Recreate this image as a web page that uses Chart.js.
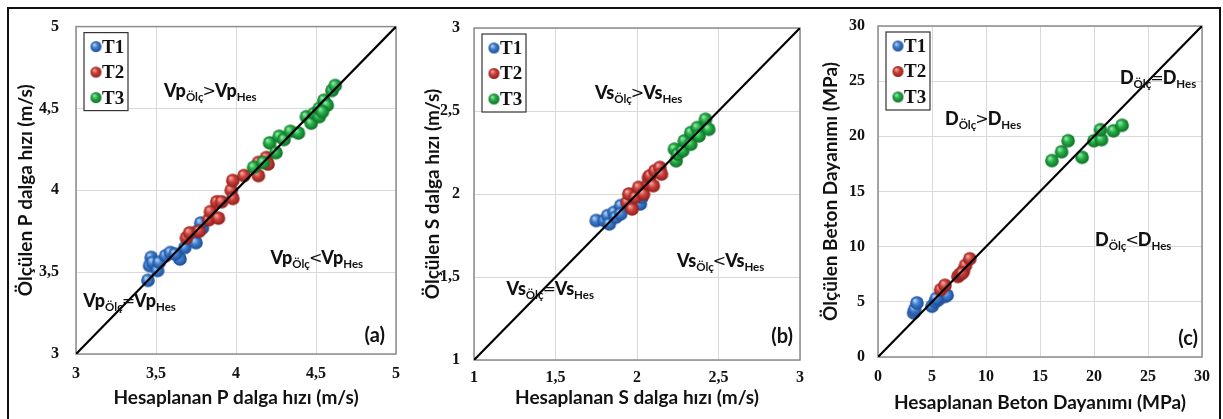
<!DOCTYPE html>
<html lang="tr">
<head>
<meta charset="utf-8">
<title>Ölçülen ve hesaplanan değerler</title>
<script src="https://cdn.jsdelivr.net/npm/chart.js@4.4.1/dist/chart.umd.min.js"></script>
<style>
  html, body { margin: 0; padding: 0; background: #fff; }
  body { width: 1223px; height: 419px; position: relative; overflow: hidden; }
  .panel { position: absolute; top: 0; }
  .frame {
    position: absolute; left: 7px; top: 7px; width: 1214px; height: 500px;
    border: 2px solid #111; box-sizing: border-box; pointer-events: none;
  }
</style>
</head>
<body>
<div class="panel" style="left:0px"><canvas id="chartP" width="410" height="419"></canvas></div>
<div class="panel" style="left:410px"><canvas id="chartS" width="405" height="419"></canvas></div>
<div class="panel" style="left:815px"><canvas id="chartD" width="408" height="419"></canvas></div>
<div class="frame"></div>

<script>
// P dalga hızı (m/s): hesaplanan / ölçülen
const pT1x = [3.45, 3.47, 3.46, 3.48, 3.51, 3.52, 3.56, 3.59, 3.65, 3.68, 3.75, 3.76, 3.79, 3.78, 3.62];
const pT1y = [3.45, 3.59, 3.54, 3.56, 3.51, 3.56, 3.60, 3.62, 3.58, 3.65, 3.68, 3.75, 3.77, 3.80, 3.61];
const pT2x = [3.69, 3.71, 3.77, 3.83, 3.84, 3.89, 3.88, 3.91, 3.97, 3.98, 3.98, 4.05, 4.14, 4.14, 4.19, 4.20];
const pT2y = [3.71, 3.74, 3.75, 3.82, 3.87, 3.83, 3.93, 3.93, 4.00, 4.06, 3.95, 4.09, 4.09, 4.17, 4.20, 4.16];
const pT3x = [4.11, 4.17, 4.21, 4.25, 4.27, 4.30, 4.34, 4.39, 4.44, 4.47, 4.49, 4.52, 4.52, 4.55, 4.57, 4.60, 4.62, 4.54];
const pT3y = [4.14, 4.17, 4.29, 4.23, 4.33, 4.31, 4.36, 4.35, 4.45, 4.41, 4.47, 4.45, 4.50, 4.55, 4.52, 4.61, 4.64, 4.48];

// S dalga hızı (m/s)
const sT1x = [1.75, 1.80, 1.82, 1.83, 1.86, 1.87, 1.90, 1.90, 1.96, 2.02, 2.03];
const sT1y = [1.84, 1.84, 1.87, 1.82, 1.89, 1.86, 1.93, 1.88, 1.96, 1.94, 1.98];
const sT2x = [1.94, 1.95, 1.97, 1.99, 2.01, 2.04, 2.07, 2.07, 2.08, 2.10, 2.11, 2.14, 2.15];
const sT2y = [1.95, 2.00, 1.91, 1.98, 2.04, 2.00, 2.06, 2.10, 2.11, 2.05, 2.14, 2.16, 2.12];
const sT3x = [2.23, 2.24, 2.25, 2.28, 2.29, 2.33, 2.33, 2.37, 2.38, 2.42, 2.44];
const sT3y = [2.27, 2.20, 2.24, 2.26, 2.32, 2.30, 2.37, 2.40, 2.35, 2.45, 2.39];

// Beton dayanımı (MPa)
const dT1x = [3.3, 3.4, 3.6, 5.0, 5.3, 5.6, 6.2, 6.4, 5.4];
const dT1y = [4.0, 4.3, 4.9, 4.6, 5.0, 5.2, 5.5, 5.6, 5.3];
const dT2x = [5.8, 6.2, 7.4, 7.6, 7.9, 8.1, 8.5, 7.8];
const dT2y = [6.1, 6.5, 7.3, 7.5, 7.8, 8.3, 8.9, 7.6];
const dT3x = [16.1, 17.0, 17.6, 18.9, 20.0, 20.7, 20.6, 21.8, 22.6];
const dT3y = [17.8, 18.6, 19.6, 18.1, 19.6, 19.7, 20.6, 20.5, 21.0];

// eksen sınırları ve adımları
const pRange = [3, 5];
const sRange = [1, 3];
const dRange = [0, 30];
const pStep = 0.5;
const sStep = 0.5;
const dStep = 5;

const groupNames = ["T1", "T2", "T3"];

const TITLE_FONT = "Lato, 'Open Sans', sans-serif";
const TICK_FONT = "'Liberation Serif', 'DejaVu Serif', serif";

// küre görünümlü nokta
function sphere(light, base, dark, r) {
  const size = Math.ceil(r * 2 + 2);
  const c = document.createElement("canvas");
  c.width = size;
  c.height = size;
  const g = c.getContext("2d");
  const cx = size / 2, cy = size / 2;
  const grad = g.createRadialGradient(cx - r * 0.35, cy - r * 0.4, r * 0.05, cx, cy, r);
  grad.addColorStop(0, light);
  grad.addColorStop(0.45, base);
  grad.addColorStop(1, dark);
  g.fillStyle = grad;
  g.beginPath();
  g.arc(cx, cy, r, 0, Math.PI * 2);
  g.fill();
  return c;
}

const palette = [
  ["#b9d6f7", "#3f7fd0", "#1d4b92"],
  ["#f4aca6", "#cf403a", "#8a1f1b"],
  ["#9eeab0", "#23b046", "#0f6d27"]
];

function pairs(xs, ys) {
  return xs.map((x, i) => ({ x: x, y: ys[i] }));
}

function comma(v) {
  return String(v).replace(".", ",");
}

// Vp_Ölç > Vp_Hes biçimindeki yazılar
function drawRelation(ctx, x, y, sym, rel) {
  ctx.save();
  ctx.fillStyle = "#111";
  ctx.textBaseline = "alphabetic";
  ctx.textAlign = "left";
  ctx.font = "900 18px " + TITLE_FONT;
  ctx.fillText(sym, x, y);
  x += ctx.measureText(sym).width;
  ctx.font = "bold 11.5px " + TITLE_FONT;
  ctx.fillText("Ölç", x, y + 4);
  x += ctx.measureText("Ölç").width - 1;
  ctx.font = "16px 'DejaVu Sans', sans-serif";
  ctx.fillText(rel, x, y - 1);
  x += ctx.measureText(rel).width - 1;
  ctx.font = "900 18px " + TITLE_FONT;
  ctx.fillText(sym, x, y);
  x += ctx.measureText(sym).width;
  ctx.font = "bold 11.5px " + TITLE_FONT;
  ctx.fillText("Hes", x, y + 4);
  ctx.restore();
}

const framePlugin = {
  id: "frame",
  beforeDatasetsDraw(chart) {
    const a = chart.chartArea;
    const ctx = chart.ctx;
    ctx.save();
    ctx.strokeStyle = "#8c8c8c";
    ctx.lineWidth = 1.5;
    ctx.strokeRect(a.left, a.top, a.right - a.left, a.bottom - a.top);
    ctx.restore();
  }
};

const notesPlugin = {
  id: "notes",
  afterDatasetsDraw(chart, args, opts) {
    const ctx = chart.ctx;
    const a = chart.chartArea;
    const xs = chart.scales.x, ys = chart.scales.y;

    // açıklama kutusu
    const bx = a.left + 8, by = a.top + 6;
    ctx.save();
    ctx.fillStyle = "#fff";
    ctx.fillRect(bx, by, 44, 78);
    ctx.strokeStyle = "#333";
    ctx.lineWidth = 1.2;
    ctx.strokeRect(bx, by, 44, 78);
    ctx.font = "bold 19px " + TICK_FONT;
    ctx.fillStyle = "#111";
    ctx.textBaseline = "middle";
    groupNames.forEach((name, i) => {
      const yy = a.top + 20 + i * 25.5;
      const img = opts.markers[i];
      ctx.drawImage(img, a.left + 20 - img.width / 2, yy - img.height / 2);
      ctx.fillText(name, a.left + 26, yy + 1);
    });
    ctx.restore();

    opts.notes.forEach(n => {
      drawRelation(ctx, xs.getPixelForValue(n.x), ys.getPixelForValue(n.y), opts.symbol, n.rel);
    });

    ctx.save();
    ctx.font = "bold 20px " + TITLE_FONT;
    ctx.fillStyle = "#111";
    ctx.textAlign = "right";
    ctx.textBaseline = "alphabetic";
    ctx.fillText(opts.tag, a.right - opts.tagDx, a.bottom - opts.tagDy);
    ctx.restore();
  }
};

function makePanel(cfg) {
  const canvas = document.getElementById(cfg.id);
  if (!canvas) return;

  const markers = palette.map(p => sphere(p[0], p[1], p[2], 6.8));
  const legendMarkers = palette.map(p => sphere(p[0], p[1], p[2], 5.5));

  const axis = (range, step, title, isY) => ({
    type: "linear",
    min: range[0],
    max: range[1],
    afterFit: s => { if (isY) s.width = cfg.yWidth; else s.height = cfg.xHeight; },
    grid: { color: "#d9d9d9", lineWidth: 1, drawTicks: false },
    border: { display: false },
    ticks: {
      stepSize: step,
      padding: isY ? cfg.yTickPad : cfg.xTickPad,
      color: "#111",
      font: { family: TICK_FONT, size: 16, weight: "bold" },
      callback: v => comma(v)
    },
    title: {
      display: true,
      text: title,
      color: "#111",
      font: { family: TITLE_FONT, size: 19, weight: "bold" },
      padding: isY ? { top: cfg.yTitlePad, bottom: 0 } : { top: 0, bottom: cfg.xTitlePad }
    }
  });

  new Chart(canvas, {
    type: "scatter",
    data: {
      datasets: [
        {
          type: "line",
          data: [{ x: cfg.range[0], y: cfg.range[0] }, { x: cfg.range[1], y: cfg.range[1] }],
          borderColor: "#000",
          borderWidth: 2.2,
          pointRadius: 0,
          order: 0
        },
        { label: "T3", data: pairs(cfg.t3x, cfg.t3y), pointStyle: markers[2], order: 1 },
        { label: "T2", data: pairs(cfg.t2x, cfg.t2y), pointStyle: markers[1], order: 2 },
        { label: "T1", data: pairs(cfg.t1x, cfg.t1y), pointStyle: markers[0], order: 3 }
      ]
    },
    options: {
      responsive: false,
      animation: false,
      layout: { padding: { top: cfg.top, right: cfg.right, bottom: 0, left: 0 } },
      scales: {
        x: axis(cfg.range, cfg.step, cfg.xTitle, false),
        y: axis(cfg.range, cfg.step, cfg.yTitle, true)
      },
      plugins: {
        legend: { display: false },
        tooltip: { enabled: false },
        notes: {
          markers: legendMarkers,
          symbol: cfg.symbol,
          notes: cfg.notes,
          tag: cfg.tag,
          tagDx: cfg.tagDx,
          tagDy: cfg.tagDy
        }
      }
    },
    plugins: [framePlugin, notesPlugin]
  });
}

makePanel({
  id: "chartP", range: pRange, step: pStep,
  t1x: pT1x, t1y: pT1y, t2x: pT2x, t2y: pT2y, t3x: pT3x, t3y: pT3y,
  xTitle: "Hesaplanan P dalga hızı (m/s)", yTitle: "Ölçülen P dalga hızı (m/s)",
  top: 24, right: 10, yWidth: 76, xHeight: 65,
  yTickPad: 17, xTickPad: 10, yTitlePad: 14, xTitlePad: 10,
  symbol: "Vp",
  notes: [
    { x: 3.55, y: 4.57, rel: ">" },
    { x: 4.215, y: 3.55, rel: "<" },
    { x: 3.045, y: 3.29, rel: "=" }
  ],
  tag: "(a)", tagDx: 11, tagDy: 12
});

makePanel({
  id: "chartS", range: sRange, step: sStep,
  t1x: sT1x, t1y: sT1y, t2x: sT2x, t2y: sT2y, t3x: sT3x, t3y: sT3y,
  xTitle: "Hesaplanan S dalga hızı (m/s)", yTitle: "Ölçülen S dalga hızı (m/s)",
  top: 28, right: 15, yWidth: 64, xHeight: 59,
  yTickPad: 14, xTickPad: 8, yTitlePad: 11, xTitlePad: 10,
  symbol: "Vs",
  notes: [
    { x: 1.742, y: 2.575, rel: ">" },
    { x: 2.245, y: 1.56, rel: "<" },
    { x: 1.2, y: 1.39, rel: "=" }
  ],
  tag: "(b)", tagDx: 7, tagDy: 17
});

makePanel({
  id: "chartD", range: dRange, step: dStep,
  t1x: dT1x, t1y: dT1y, t2x: dT2x, t2y: dT2y, t3x: dT3x, t3y: dT3y,
  xTitle: "Hesaplanan Beton Dayanımı (MPa)", yTitle: "Ölçülen Beton Dayanımı (MPa)",
  top: 26, right: 21, yWidth: 63, xHeight: 62,
  yTickPad: 13, xTickPad: 10, yTitlePad: 4, xTitlePad: 5,
  symbol: "D",
  notes: [
    { x: 6.2, y: 21.0, rel: ">" },
    { x: 22.4, y: 24.7, rel: "=" },
    { x: 20.1, y: 10.1, rel: "<" }
  ],
  tag: "(c)", tagDx: 4, tagDy: 12
});
</script>
</body>
</html>
